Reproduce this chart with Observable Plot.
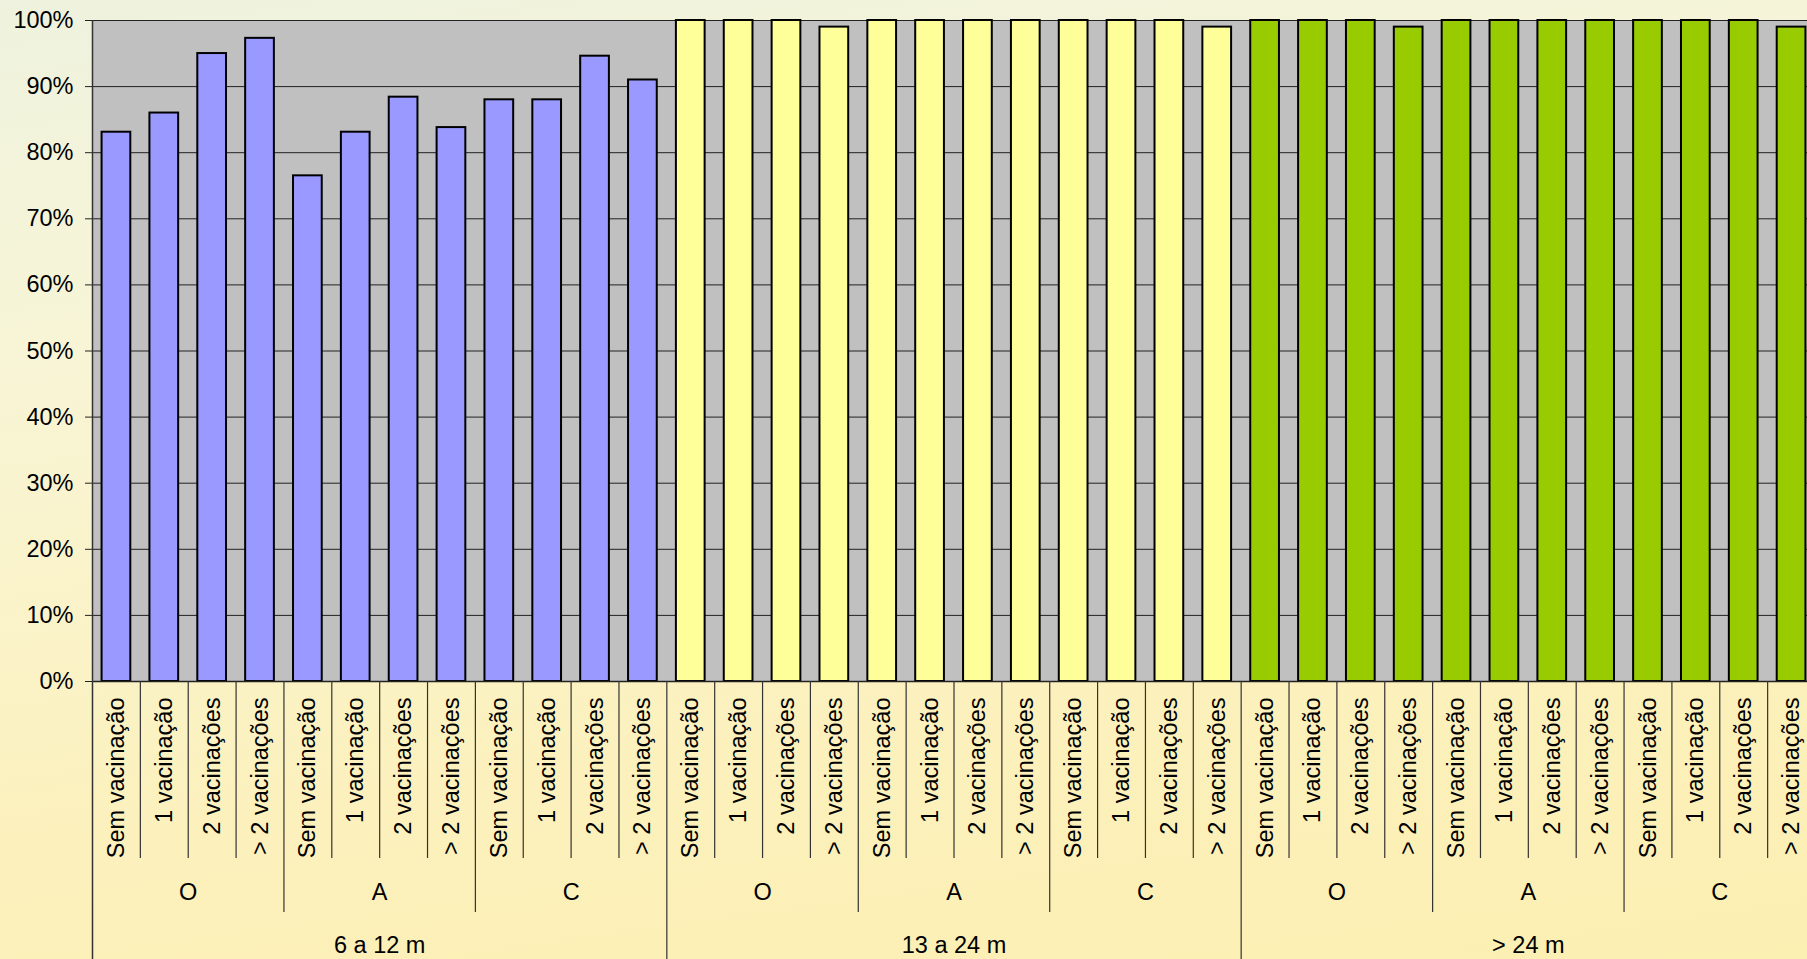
<!DOCTYPE html>
<html>
<head>
<meta charset="utf-8">
<script src="https://cdn.jsdelivr.net/npm/d3@7"></script>
<script src="https://cdn.jsdelivr.net/npm/@observablehq/plot@0.6"></script>
<style>
  html, body { margin: 0; padding: 0; }
  body {
    width: 1807px; height: 959px; overflow: hidden;
    background: linear-gradient(172deg, #eef2de 0%, #f8f5d6 30%, #fcf1bd 70%, #fcefb2 100%);
    font-family: "Liberation Sans", Arial, sans-serif;
  }
  #chart svg { display: block; }
</style>
</head>
<body>
<div id="chart"></div>
<script>
// ---- data ----
const ageGroups = ["6 a 12 m", "13 a 24 m", "> 24 m"];
const bloodTypes = ["O", "A", "C"];
const vaccinations = ["Sem vacinação", "1 vacinação", "2 vacinações", "> 2 vacinações"];
const values6to12 = [83.1, 86.0, 95.0, 97.3, 76.5, 83.1, 88.4, 83.8, 88.0, 88.0, 94.6, 91.0];
const values13to24 = [100, 100, 100, 99, 100, 100, 100, 100, 100, 100, 100, 99];
const valuesOver24 = [100, 100, 100, 99, 100, 100, 100, 100, 100, 100, 100, 99];
const ageColors = ["#9999ff", "#ffff99", "#99cc00"];
const yTicks = [0, 10, 20, 30, 40, 50, 60, 70, 80, 90, 100];

// ---- build table ----
const seriesValues = [values6to12, values13to24, valuesOver24];
const rows = [];
ageGroups.forEach((age, a) => {
  bloodTypes.forEach((t, b) => {
    vaccinations.forEach((v, c) => {
      const k = b * vaccinations.length + c;
      rows.push({i: a * 12 + k, age, type: t, vacc: v, value: seriesValues[a][k], color: ageColors[a]});
    });
  });
});
const nCats = rows.length;
const typeRows = [];
ageGroups.forEach((age, a) => bloodTypes.forEach((t, b) => typeRows.push({label: t, center: a * 12 + b * 4 + 2})));
const ageRows = ageGroups.map((age, a) => ({label: age, center: a * 12 + 6}));
const bounds = d3.range(0, nCats + 1);
const shortBounds = bounds.filter(d => d % 4 !== 0);
const midBounds = bounds.filter(d => d % 4 === 0 && d % 12 !== 0);
const longBounds = bounds.filter(d => d % 12 === 0 && d !== 0);

// ---- layout ----
const W = 1815, H = 959, mT = 20, mB = 278, mL = 92;
const plotH = H - mT - mB;
const FS = 23.5;

const chart = Plot.plot({
  width: W,
  height: H,
  marginTop: mT,
  marginBottom: mB,
  marginLeft: mL,
  marginRight: 0,
  style: {background: "transparent", maxWidth: "none", overflow: "visible", fontFamily: "'Liberation Sans', Arial, sans-serif", fontSize: FS + "px", color: "black"},
  x: {type: "linear", domain: [0, nCats], axis: null},
  y: {domain: [0, 100], axis: null},
  marks: [
    Plot.frame({fill: "#c0c0c0", stroke: null}),
    Plot.gridY(yTicks, {stroke: "#222", strokeOpacity: 1, strokeWidth: 1}),
    Plot.rect(rows, {x1: d => d.i + 0.2, x2: d => d.i + 0.8, y1: 0, y2: "value", fill: "color", stroke: "black", strokeWidth: 2}),
    Plot.axisY(yTicks, {tickFormat: d => d + "%", tickSize: 7, tickPadding: 12, fontSize: FS, label: null, stroke: "#222"}),
    Plot.ruleY([0], {stroke: "#222", strokeWidth: 1.5}),
    Plot.ruleX([0], {stroke: "#333", strokeWidth: 1.5, insetBottom: -400}),
    Plot.ruleX(shortBounds, {x: d => d, stroke: "#333", strokeWidth: 1.2, insetTop: plotH, insetBottom: -177}),
    Plot.ruleX(midBounds, {x: d => d, stroke: "#333", strokeWidth: 1.2, insetTop: plotH, insetBottom: -231}),
    Plot.ruleX(longBounds, {x: d => d, stroke: "#333", strokeWidth: 1.2, insetTop: plotH, insetBottom: -400}),
    Plot.text(rows, {x: d => d.i + 0.5, text: "vacc", frameAnchor: "bottom", lineAnchor: "middle", rotate: -90, textAnchor: "end", dy: 16, fontSize: FS, fill: "black"}),
    Plot.text(typeRows, {x: "center", text: "label", frameAnchor: "bottom", lineAnchor: "middle", dy: 211, fontSize: FS, fill: "black"}),
    Plot.text(ageRows, {x: "center", text: "label", frameAnchor: "bottom", lineAnchor: "middle", dy: 264, fontSize: FS, fill: "black"})
  ]
});
document.getElementById("chart").appendChild(chart);
</script>
</body>
</html>
